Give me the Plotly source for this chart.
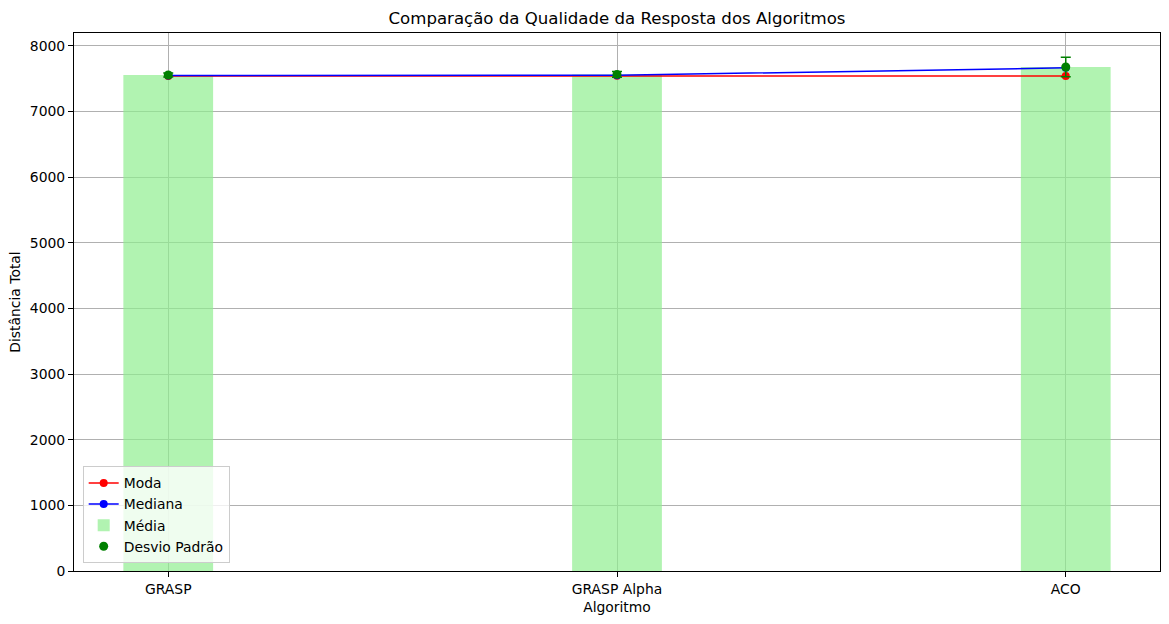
import plotly.graph_objects as go

algoritmos = ["GRASP", "GRASP Alpha", "ACO"]
media = [7556, 7565, 7678]
desvio = [30, 45, 150]
moda = [7542, 7545, 7542]
mediana = [7548, 7552, 7665]

font = "DejaVu Sans"
fs = 13.9
fig = go.Figure()

fig.add_trace(go.Bar(
    x=[0, 1, 2], y=media, width=0.2, name="Média",
    marker=dict(color="rgba(144,238,144,0.7)", line=dict(width=0)),
    legendrank=3,
))
fig.add_trace(go.Scatter(
    x=[0, 1, 2], y=moda, mode="lines+markers", name="Moda",
    line=dict(color="red", width=1.5), marker=dict(color="red", size=8),
    legendrank=1,
))
fig.add_trace(go.Scatter(
    x=[0, 1, 2], y=mediana, mode="lines+markers", name="Mediana",
    line=dict(color="blue", width=1.5), marker=dict(color="blue", size=8),
    legendrank=2,
))
fig.add_trace(go.Scatter(
    x=[0, 1, 2], y=media, mode="markers", name="Desvio Padrão",
    marker=dict(color="green", size=9),
    error_y=dict(type="data", array=desvio, color="green", thickness=1.5, width=5),
    legendrank=4,
))

fig.update_layout(
    width=1169, height=624,
    margin=dict(l=74, r=9, t=33, b=53),
    plot_bgcolor="white", paper_bgcolor="white",
    font=dict(family=font, size=fs, color="black"),
    title=dict(text="Comparação da Qualidade da Resposta dos Algoritmos",
               x=0.5, xref="paper", xanchor="center", y=1 - 18 / 624, yanchor="middle",
               font=dict(size=16.6)),
    showlegend=True,
    legend=dict(x=0.008, y=0.014, xanchor="left", yanchor="bottom",
                bgcolor="rgba(255,255,255,0.8)", bordercolor="#cccccc", borderwidth=1,
                font=dict(size=fs), itemwidth=30, tracegroupgap=0),
    xaxis=dict(
        range=[-0.21, 2.21], tickmode="array", tickvals=[0, 1, 2], ticktext=algoritmos,
        showgrid=True, gridcolor="#b0b0b0", gridwidth=0.8,
        showline=True, linecolor="black", linewidth=1, mirror=True,
        ticks="outside", ticklen=5, tickcolor="black", tickfont=dict(size=fs),
        title=dict(text="Algoritmo", standoff=6, font=dict(size=fs)), zeroline=False,
    ),
    yaxis=dict(
        range=[0, 8196], tickvals=[0, 1000, 2000, 3000, 4000, 5000, 6000, 7000, 8000],
        showgrid=True, gridcolor="#b0b0b0", gridwidth=0.8,
        showline=True, linecolor="black", linewidth=1, mirror=True,
        ticks="outside", ticklen=5, tickcolor="black", tickfont=dict(size=fs),
        title=dict(text="Distância Total", standoff=5, font=dict(size=fs)), zeroline=False,
    ),
)

fig.write_html("out.html")
